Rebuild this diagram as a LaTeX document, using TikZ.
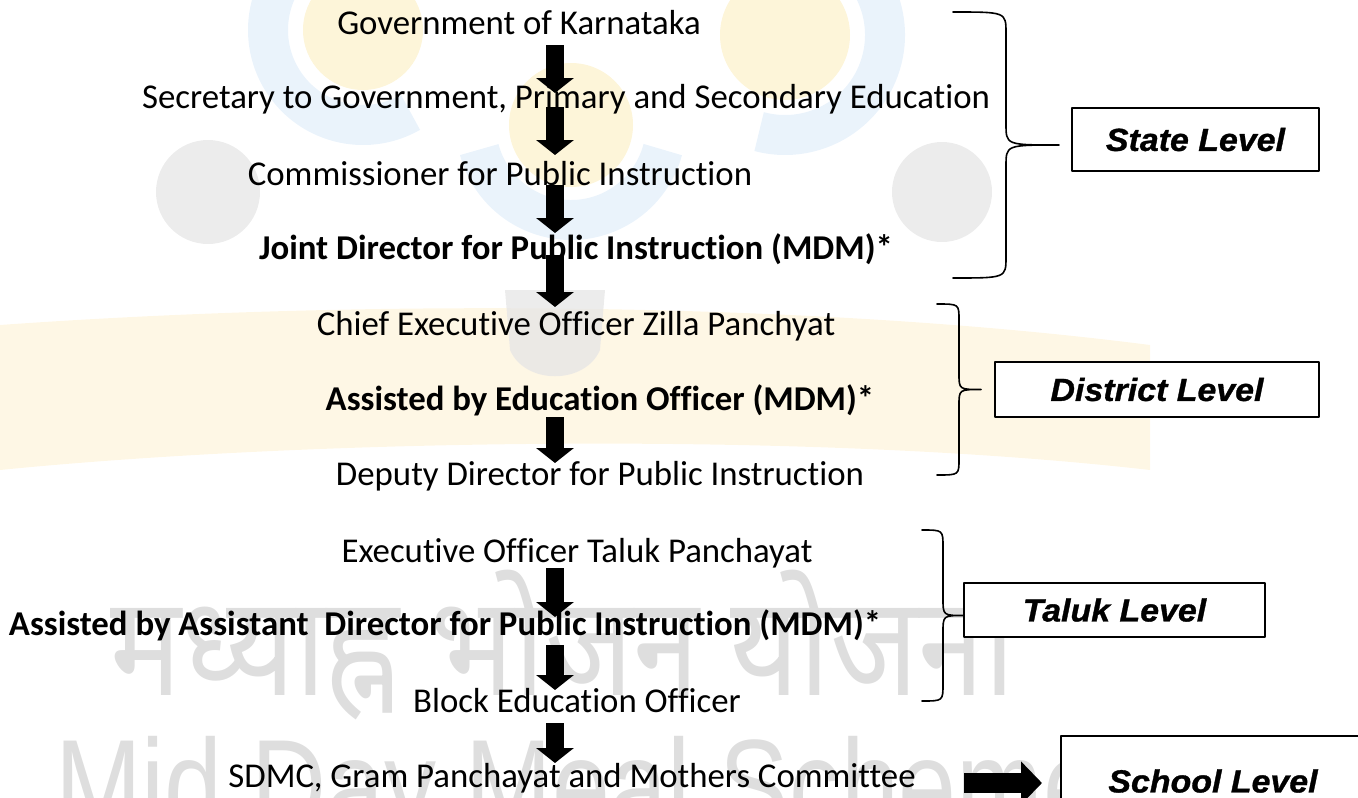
\documentclass[tikz,border=0pt]{standalone}
\usepackage{fontspec}
\setmainfont{Carlito}[Ligatures=NoCommon]
\newfontfamily\tierfont{Liberation Sans}[FakeStretch=1.06, FakeBold=1]
\newfontfamily\markfont{Liberation Sans}[FakeStretch=0.8]
\newfontfamily\hindifont{Noto Sans}[Script=Devanagari, FakeStretch=0.85]
\usetikzlibrary{arrows.meta}
\definecolor{mdmyellow}{HTML}{FCF1CC}
\definecolor{mdmblue}{HTML}{E3EFFA}
\definecolor{mdmgray}{HTML}{E6E6E6}
\definecolor{mdmsaffron}{HTML}{FEF4DC}
\begin{document}
\begin{tikzpicture}[x=1pt,y=-1pt, line join=round,
    office/.style={font=\fontsize{34.8}{38}\selectfont, inner sep=0pt, anchor=base},
    officebold/.style={office, font=\fontsize{34.8}{38}\selectfont\bfseries},
    tierbox/.style={draw, line width=2pt, fill=white, inner sep=0pt, font=\tierfont\fontsize{32}{36}\selectfont\bfseries\itshape},
    downarrow/.style={line width=18pt, -{Triangle[width=37pt,length=15pt]}},
    sidearrow/.style={line width=20pt, -{Triangle[width=42pt,length=21pt]}},
    levelbrace/.style={line width=1.6pt, line cap=round}]
  \useasboundingbox (0,0) rectangle (1358,798);
  \clip (0,0) rectangle (1358,798);
  % faded logo behind the chart
  \begin{scope}[opacity=0.75]
    \fill[mdmsaffron] (0,325) .. controls (350,300) and (800,300) .. (1150,345) -- (1150,470) .. controls (800,430) and (300,440) .. (0,470) -- cycle;
    \draw[mdmblue, line width=40pt] (363,30) ++(60:95) arc (60:225:95);
    \draw[mdmblue, line width=40pt] (571,125) ++(15:95) arc (15:165:95);
    \draw[mdmblue, line width=40pt] (785,35) ++(-70:100) arc (-70:105:100);
    \fill[mdmyellow] (363,30) circle (60) (571,125) circle (62) (785,35) circle (65);
    \fill[mdmgray] (208,192) circle (52) (942,192) circle (50);
    \fill[mdmgray] (505,290) -- (605,290) -- (600,350) .. controls (585,385) and (525,385) .. (510,350) -- cycle;
  \end{scope}
  \node[font=\hindifont\fontsize{140}{144}\selectfont, text=black!13, anchor=base west, inner sep=0pt] (hindimark) at (110,695) {मध्याह्न भोजन योजना};
  \node[font=\markfont\fontsize{130}{134}\selectfont, text=black!13, anchor=base west, inner sep=0pt] (engmark) at (55,830) {Mid Day Meal Scheme};

  \coordinate (spine) at (555,0);
  \node[office] (gov) at (519,34) {Government of Karnataka};
  \node[office] (sec) at (566,108) {Secretary to Government, Primary and Secondary Education};
  \node[office] (comm) at (500,185) {Commissioner for Public Instruction};
  \node[officebold] (joint) at (576,259) {Joint Director for Public Instruction (MDM)*};
  \node[office] (chief) at (576,335) {Chief Executive Officer Zilla Panchyat};
  \node[officebold] (aedu) at (600,410) {Assisted by Education Officer (MDM)*};
  \node[office] (deputy) at (600,485) {Deputy Director for Public Instruction};
  \node[office] (exec) at (577,562) {Executive Officer Taluk Panchayat};
  \node[officebold] (aasst) at (445,635) {Assisted by Assistant\ \ Director for Public Instruction (MDM)*};
  \node[office] (block) at (577,712) {Block Education Officer};
  \node[office] (sdmc) at (572,787) {SDMC, Gram Panchayat and Mothers Committee};

  \foreach \from/\to/\s/\e in {gov/sec/-11/15, sec/comm/1/30, comm/joint/0/26, joint/chief/4/28,
      aedu/deputy/-7/22, exec/aasst/-6/18, aasst/block/-10/22, block/sdmc/-11/24}
    \draw[downarrow] ([yshift=\s pt]\from.base -| spine) -- ([yshift=\e pt]\to.base -| spine);

  \node[tierbox, minimum width=247pt, minimum height=63pt] (state) at (1195.5,139.5) {State Level};
  \node[tierbox, minimum width=324pt, minimum height=55pt] (district) at (1157,389.5) {District Level};
  \node[tierbox, minimum width=301pt, minimum height=54pt] (taluk) at (1114.5,610) {Taluk Level};
  \node[tierbox, minimum width=304pt, minimum height=90pt] (school) at (1213,781) {School Level};

  \foreach \ya/\yb/\sx/\w/\r in {12/278/1006/53/21, 304/475/959/22/16, 530/701/943/21/17} {
    \pgfmathsetmacro\ym{(\ya+\yb)/2}
    \draw[levelbrace] (\sx-\w,\ya) .. controls (\sx,\ya) .. (\sx,\ya+\r) -- (\sx,\ym-\r)
      .. controls (\sx,\ym) .. (\sx+\w,\ym) .. controls (\sx,\ym) .. (\sx,\ym+\r)
      -- (\sx,\yb-\r) .. controls (\sx,\yb) .. (\sx-\w,\yb);
  }

  \coordinate (sdmcout) at (964,783);
  \draw[sidearrow] (sdmcout) -- ([xshift=-18pt]school.west |- sdmcout);
\end{tikzpicture}
\end{document}
